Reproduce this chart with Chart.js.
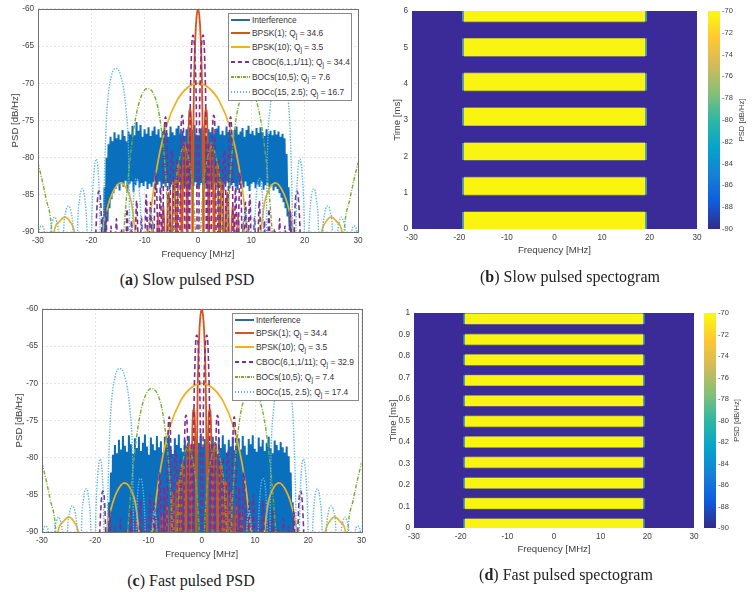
<!DOCTYPE html>
<html>
<head>
<meta charset="utf-8">
<title>Pulsed interference PSD</title>
<script src="https://cdn.jsdelivr.net/npm/chart.js@4/dist/chart.umd.js"></script>
<style>
  html,body{margin:0;background:#fff}
  #page{position:relative;width:753px;height:592px;overflow:hidden;font-family:"Liberation Sans",sans-serif}
  canvas{position:absolute;display:block}
  .cap{position:absolute;transform:translateX(-50%);white-space:nowrap;font:16px/18px "Liberation Serif",serif;color:#222}
  .lg{position:absolute;box-sizing:border-box;background:#fff;border:1px solid #8a8a8a;padding:0 0 0 2px;font-size:8.4px;color:#333}
  .lg-row{display:flex;align-items:center;height:15px;white-space:nowrap}
  .lg-row:first-child{height:11.5px}
  .lg-row:nth-child(2){height:14px}
  .lg-line{display:block;width:19px;height:2px;margin-right:2px;flex:none}
  .lg sub{font-size:7px;line-height:0;vertical-align:-2px}
</style>
</head>
<body>
<div id="page">
  <canvas id="psdSlow" width="378" height="262" style="left:0;top:0"></canvas>
  <canvas id="specSlow" width="332" height="258" style="left:376px;top:0"></canvas>
  <canvas id="barSlow" width="45" height="240" style="left:708px;top:0"></canvas>
  <canvas id="psdFast" width="378" height="262" style="left:0;top:300px"></canvas>
  <canvas id="specFast" width="328" height="257" style="left:376px;top:300px"></canvas>
  <canvas id="barFast" width="45" height="240" style="left:704px;top:300px"></canvas>
  <div class="lg" id="lgSlow" style="left:228px;top:13px;width:124px;height:88px"></div>
  <div class="lg" id="lgFast" style="left:232px;top:313px;width:127px;height:88px"></div>
  <div class="cap" style="left:187px;top:271px">(<b>a</b>) Slow pulsed PSD</div>
  <div class="cap" style="left:570px;top:268px">(<b>b</b>) Slow pulsed spectogram</div>
  <div class="cap" style="left:191px;top:572px">(<b>c</b>) Fast pulsed PSD</div>
  <div class="cap" style="left:566px;top:566px">(<b>d</b>) Fast pulsed spectogram</div>
</div>
<script>
/* ── axis ticks ── */
const freqTicks = [-30,-20,-10,0,10,20,30];
const psdTicks  = [-90,-85,-80,-75,-70,-65,-60];
const slowTimeTicks = [0,1,2,3,4,5,6];
const fastTimeTicks = [0,0.1,0.2,0.3,0.4,0.5,0.6,0.7,0.8,0.9,1];
const colorbarTicks = [-90,-88,-86,-84,-82,-80,-78,-76,-74,-72,-70];

/* ── legend ── */
const interfName  = 'Interference';
const signalNames = ['BPSK(1)','BPSK(10)','CBOC(6,1,1/11)','BOCs(10,5)','BOCc(15, 2.5)'];
const slowQ = [34.6,3.5,34.4,7.6,16.7];
const fastQ = [34.4,3.5,32.9,7.4,17.4];

/* ── signal spectra (they are symmetric around 0) ── */
const bpsk1Freq = [0,.25,.5,.8,.95,1.02, 1.1,1.5,1.9,2, 2.1,2.5,2.9,3, 3.1,3.5,3.9,4, 4.1,4.5,4.9,5, 5.1,5.5,5.9,6, 6.1,6.5,6.9,7, 7.1,7.5,7.9,8, 8.1,8.5,8.9,9, 9.1,9.5,9.9,10];
const bpsk1Psd  = [-60,-60.9,-63.9,-72.6,-85.7,-105, -83.7,-73.5,-83.7,-105, -88.2,-78,-88.2,-105, -91,-80.8,-91,-105, -93.2,-83,-93.2,-105, -94.9,-84.7,-94.9,-105, -96.4,-86.2,-96.4,-105, -97.6,-87.4,-97.6,-105, -98.7,-88.5,-98.7,-105, -99.7,-89.5,-99.7,-105];

const bpsk10Freq = [0,2,4,6,7.5,8.5,9,9.3,9.8,10, 11.2,11.8,12.5,13.3,14.5,16,17,17.9,18.6,20, 22,23.2,24,25,26,27,28,30];
const bpsk10Psd  = [-70,-70.6,-72.4,-75.9,-80.5,-85.2,-88.6,-90.5,-100,-108, -96,-90,-86,-84.3,-83.4,-84.7,-86.8,-90,-96,-108, -98,-90,-88.6,-88,-88.6,-90,-98,-108];

const cbocFreq = [.1,.25,.55,.95,1.3,1.5,1.6, 1.65,1.75,1.95,2.15,2.25, 2.4,2.6,2.95,3.3,3.5, 3.6,3.75,3.95,4.15,4.3, 4.4,4.6,4.9,5.2,5.4, 5.5,5.75,6.1,6.45,6.7, 6.75,6.85,7.05,7.25,7.35, 7.4,7.6,7.9,8.2,8.4, 8.5,8.65,8.9,9.15,9.25, 9.3,9.45,9.7,9.95,10.1, 10.2,10.35,10.6,10.85,10.95, 11,11.2,11.5,11.8,12, 12.05,12.2,12.45,12.7,12.85, 12.9,13.05,13.3,13.55,13.75, 13.8,14.05,14.35,14.65,14.85, 14.9,15.05,15.3,15.55,15.75, 15.8,16.05,16.3,16.55,16.7, 16.75,17,17.3,17.6,17.8, 17.85,18,18.6,19.2,19.5];
const cbocPsd  = [-100,-78,-67,-63.5,-68,-78,-100, -100,-86,-78,-86,-100, -100,-81,-74.3,-81,-100, -100,-87,-80,-87,-100, -100,-85,-79,-85,-100, -100,-81,-74.5,-81,-100, -100,-91,-84,-91,-100, -100,-89,-82,-89,-100, -100,-93,-86,-93,-100, -100,-92,-85,-92,-100, -100,-95,-88,-95,-100, -100,-93,-85.8,-93,-100, -100,-95,-88.5,-95,-100, -100,-94,-86.9,-94,-100, -100,-96,-89.6,-96,-100, -100,-95,-88.2,-95,-100, -100,-96,-89.2,-96,-100, -100,-94,-87,-94,-100, -100,-91.5,-84.5,-91,-100];

const bocsFreq = [0,.4,1,1.8,2.6,3.4,4.2,4.7,5, 5.4,6,7,8,9.5,11,12,13,13.7,14.2,15, 26,27,27.4,28.5,29.3,30];
const bocsPsd  = [-105,-92,-84,-80,-78.5,-80,-84,-92,-105, -92,-83,-75.5,-72,-70.7,-72.5,-76,-82,-88,-93,-105, -105,-96,-90,-85.5,-82.8,-80.7];

const boccFreq = [8,8.3,8.9,9.5,9.9, 10.3,10.6,11,11.5,12,12.3, 12.5,12.8,13,13.5,14.5,15.4,16.3,17,17.4,17.7,17.9, 18.2,18.4,18.7,19.1,19.5,19.9,20.2, 20.5,20.8,21.2,21.7,22.2,22.6,22.8, 23,23.4,23.8,24.3,24.8,25.2,25.5, 25.8,26.2,26.5,26.9,27.3,27.6,27.9, 28.2,28.8,29.3,29.8,30];
const boccPsd  = [-100,-92,-87,-92,-100, -100,-90,-84.5,-82.8,-84.5,-90, -100,-90,-80,-73.5,-69,-68,-69.2,-73,-79,-88,-100, -100,-88,-82,-80.2,-82,-88,-100, -100,-90,-85.6,-84.2,-85.6,-90,-100, -100,-90,-87.3,-86.5,-87.3,-90,-100, -100,-90,-88.6,-88,-88.6,-90,-100, -100,-90,-89.2,-90,-92];

/* ── interference band: peaks and troughs across the band, left to right ── */
const slowInterfStart = -17.9, fastInterfStart = -17.8, interfStep = 0.375;
const slowInterfUpper = [-88,-84,-80,-78.2,-77.2,-77.8,-76.6,-77.4,-76.9,-77.6,-76.3,-77.1,-77.8,-76.5,-76.9,-75.7,-77,-75.2,-76.4,-75.6,-77.2,-76.2,-76.8,-75.9,-77.1,-76.4,-75.8,-76.9,-76.2,-77.3,-76.5,-75.9,-76.7,-77.2,-75.8,-76.6,-77,-76.1,-75.7,-76.8,-76.4,-77.1,-76.2,-75.9,-76.7,-76.3,-75.6,-76.9,-77,-76.1,-75.8,-76.5,-77.2,-76.2,-76.6,-75.9,-76.8,-76.1,-75.7,-76.9,-76.4,-77,-75.8,-76.6,-76.2,-77.1,-76.3,-75.8,-76.9,-76.5,-76,-77.2,-76.3,-75.7,-76.8,-76.4,-77,-76,-76.7,-75.9,-76.6,-77.1,-76.2,-76.8,-76.4,-77,-76.3,-76.9,-76.5,-77.2,-76.8,-77.4,-79.5,-84,-89];
const slowInterfLower = [-92,-90.5,-88.6,-86.8,-85.6,-84.8,-84.2,-83.6,-84.4,-83.3,-83.9,-83.1,-84.3,-83.5,-83.2,-84.6,-83.7,-83.1,-84,-83.4,-83.8,-83.2,-84.2,-83.5,-83.9,-83.3,-84.4,-83.6,-83.2,-84.1,-83.5,-83.9,-83.4,-84.3,-83.6,-83.2,-84,-83.7,-83.3,-84.2,-83.6,-83.9,-83.2,-84.4,-83.5,-83.8,-83.3,-84.1,-83.7,-83.4,-84.2,-83.5,-83.9,-83.2,-84.3,-83.6,-83.4,-84,-83.3,-83.8,-84.4,-83.5,-83.2,-84.1,-83.7,-83.4,-83.9,-84.3,-83.3,-83.6,-84,-83.2,-83.8,-84.5,-83.5,-83.3,-84.1,-83.6,-83.9,-83.2,-84.3,-83.7,-83.4,-84,-83.6,-84.4,-83.9,-84.2,-84.8,-85.4,-86,-86.8,-87.9,-89.2,-92];
const fastInterfUpper = [-90,-86,-82,-79.6,-78.3,-79.4,-77.6,-78.9,-77.1,-78.4,-79.2,-77,-78.2,-79.5,-77.4,-78.7,-77.2,-79.1,-78,-76.9,-78.5,-79.6,-77.3,-78.2,-79,-77.1,-78.6,-77.8,-79.3,-77.2,-78.1,-77,-78.9,-79.5,-77.4,-78.3,-76.9,-78.7,-79.2,-77.6,-78.4,-77.1,-79,-78.2,-77.3,-79.4,-78,-76.8,-78.6,-77.5,-79.1,-77.9,-78.8,-77.2,-78.3,-79.5,-77.4,-78.7,-77,-78.2,-79.3,-77.6,-78.5,-77.2,-79,-78.1,-77.4,-78.9,-77.1,-78.4,-79.6,-77.5,-78.2,-77,-78.8,-79.2,-77.3,-78.5,-77.6,-79.1,-78,-77.2,-78.7,-79.4,-77.7,-78.3,-79,-77.9,-78.6,-79.3,-78.5,-79.8,-82,-86,-90];
const fastInterfLower = [-92,-91,-90.6,-91.4,-90.8,-91.2,-90.5,-91.6,-90.9,-91.3,-90.7,-91.5,-91,-90.6,-91.2,-90.8,-91.7,-90.5,-91.1,-91.4,-90.7,-91,-90.6,-91.5,-90.9,-91.2,-90.5,-91.3,-90.8,-91.6,-91,-90.7,-91.4,-90.6,-91.1,-90.9,-91.5,-90.5,-91.2,-90.8,-91.3,-90.6,-91,-91.6,-90.7,-91.2,-90.5,-91.4,-90.9,-91.1,-90.6,-91.5,-90.8,-91.3,-90.5,-91,-91.6,-90.7,-91.2,-90.9,-91.4,-90.6,-91.1,-90.8,-91.5,-90.5,-91.3,-91,-90.7,-91.6,-90.9,-91.2,-90.6,-91.4,-90.8,-91,-90.5,-91.5,-91.1,-90.7,-91.3,-90.9,-91.6,-90.6,-91.2,-90.8,-91.4,-90.5,-91,-91.3,-90.7,-91.5,-91,-91.2,-92];

/* ── spectrogram bursts: time extent of each yellow band ── */
const slowBurstStart = [0,0.943,1.9,2.85,3.81,4.76,5.71];
const slowBurstEnd   = [0.467,1.42,2.37,3.33,4.29,5.24,6];
const fastBurstStart = [0,0.09,0.185,0.281,0.376,0.472,0.568,0.663,0.758,0.853,0.949];
const fastBurstEnd   = [0.042,0.138,0.233,0.329,0.424,0.52,0.615,0.71,0.806,0.9,0.997];
const burstFreqLo = -19.1, burstFreqHi = 19.1;
const fringeFreqLo = -19.45, fringeFreqHi = 19.45;
const floorLevelColor = '#3a2b98';
const parula = ['#352a87','#0f5cdd','#1481d6','#06a4ca','#2eb7a4','#87bf77','#d1bb59','#fec832','#f9fb0e'];

const COLORS = {interf:'#0a6fbd', bpsk1:'#d95319', bpsk10:'#edb120', cboc:'#7e2f8e', bocs:'#77ac30', bocc:'#5bb5e5'};
const TXT = '#404040';

/* spectrum is symmetric: build the full {x,y} line from the positive side */
function bothSides(freq,psd){
  const pos = freq.map((f,i)=>({x:f,y:psd[i]}));
  const neg = pos.map(p=>({x:-p.x,y:p.y})).reverse();
  return neg.concat(pos);
}
function zigzag(start,upper,lower){
  const pts=[];
  upper.forEach((u,i)=>{
    pts.push({x:start+i*interfStep,y:u});
    pts.push({x:start+(i+.5)*interfStep,y:lower[i]});
  });
  return pts;
}
function fixedTicks(vals){ return s=>{ s.ticks = vals.map(v=>({value:v})); }; }

/* box around the plot, matlab style */
const plotBox = {
  id:'plotBox',
  afterDraw(chart,args,opts){
    const a=chart.chartArea, c=chart.ctx;
    c.save(); c.strokeStyle=opts.color||'#666'; c.lineWidth=1;
    c.strokeRect(Math.round(a.left)+.5,Math.round(a.top)+.5,Math.round(a.width),Math.round(a.height));
    c.restore();
  }
};
/* colorbar label reads bottom to top, the built-in right axis title would not */
const barTitle = {
  id:'barTitle',
  afterDraw(chart,args,opts){
    const a=chart.chartArea, c=chart.ctx;
    c.save();
    c.translate(opts.x,(a.top+a.bottom)/2); c.rotate(-Math.PI/2);
    c.font='7.6px "Liberation Sans"'; c.fillStyle=TXT; c.textAlign='center'; c.textBaseline='middle';
    c.fillText(opts.text,0,0);
    c.restore();
  }
};

function axis(cfg){
  return {
    type:'linear', min:cfg.min, max:cfg.max,
    afterBuildTicks:fixedTicks(cfg.ticks),
    afterFit:s=>{ if(cfg.width) s.width=cfg.width; if(cfg.height) s.height=cfg.height; },
    grid:{display:cfg.grid, color:'#e3e3e3', drawTicks:false},
    border:{display:false, dash:[2,2]},
    ticks:{autoSkip:false, maxRotation:0, color:TXT, padding:4, font:{family:'Liberation Sans',size:8.2}, callback:v=>String(v)},
    title:{display:true, text:cfg.title, color:TXT, font:{family:'Liberation Sans',size:9.6}, padding:cfg.titlePad}
  };
}

function lineSet(label,data,color,width,dash,smooth){
  return {label,data,borderColor:color,borderWidth:width,borderDash:dash,pointRadius:0,fill:false,
          borderJoinStyle:'bevel',cubicInterpolationMode:smooth?'monotone':'default',tension:0};
}

function drawPsd(id,a,interf){
  const W=378,H=262;
  const datasets=[
    lineSet(interfName,interf,COLORS.interf,2,[],false),
    lineSet(signalNames[0],bothSides(bpsk1Freq,bpsk1Psd),COLORS.bpsk1,1.8,[],true),
    lineSet(signalNames[1],bothSides(bpsk10Freq,bpsk10Psd),COLORS.bpsk10,1.7,[],true),
    lineSet(signalNames[2],bothSides(cbocFreq,cbocPsd),COLORS.cboc,1.6,[5,3],true),
    lineSet(signalNames[3],bothSides(bocsFreq,bocsPsd),COLORS.bocs,1.4,[4,1.5,1,1.5],true),
    lineSet(signalNames[4],bothSides(boccFreq,boccPsd),COLORS.bocc,1.4,[1.4,1.4],true)
  ];
  new Chart(document.getElementById(id),{
    type:'line',
    data:{datasets:datasets.reverse()},   // first dataset is painted last, so interference goes to the end
    options:{
      responsive:false, animation:false, events:[],
      layout:{padding:{left:0,top:a.top,right:W-a.right,bottom:0}},
      plugins:{legend:{display:false},tooltip:{enabled:false},plotBox:{color:'#707070'}},
      scales:{
        x:axis({min:-30,max:30,ticks:freqTicks,grid:true,height:H-a.bottom,title:'Frequency [MHz]',titlePad:{top:0,bottom:2.3}}),
        y:axis({min:-90,max:-60,ticks:psdTicks,grid:true,width:a.left,title:'PSD [dB/Hz]',titlePad:{top:a.titleX-5.7,bottom:0}})
      }
    },
    plugins:[plotBox]
  });
}

function rect(xLo,xHi,yLo,yHi,color){
  return {data:[{x:xLo,y:yHi},{x:xHi,y:yHi}],fill:{value:yLo},backgroundColor:color,borderWidth:0,pointRadius:0,tension:0};
}
function drawSpec(id,a,W,H,tMax,ticks,starts,ends){
  const edge=tMax*0.003, sets=[rect(-30,30,0,tMax,floorLevelColor)];
  starts.forEach((s,i)=>{
    sets.push(rect(fringeFreqLo,fringeFreqHi,s,ends[i],'#4f9fb0'));
    sets.push(rect(burstFreqLo,burstFreqHi,Math.max(0,s-edge),Math.min(tMax,ends[i]+edge),'#8f8f5a'));
    sets.push(rect(burstFreqLo,burstFreqHi,s,ends[i],'#f9f510'));
  });
  new Chart(document.getElementById(id),{
    type:'line',
    data:{datasets:sets.reverse()},
    options:{
      responsive:false, animation:false, events:[],
      layout:{padding:{left:0,top:a.top,right:W-a.right,bottom:0}},
      plugins:{legend:{display:false},tooltip:{enabled:false}},
      scales:{
        x:axis({min:-30,max:30,ticks:freqTicks,grid:false,height:H-a.bottom,title:'Frequency [MHz]',titlePad:{top:0,bottom:2.3}}),
        y:axis({min:0,max:tMax,ticks:ticks,grid:false,width:a.left,title:'Time [ms]',titlePad:{top:a.titleX-5.7,bottom:0}})
      }
    }
  });
}

function drawColorbar(id,top,bottom,titleX){
  new Chart(document.getElementById(id),{
    type:'bar',
    data:{labels:['PSD'],datasets:[{
      data:[[colorbarTicks[0],colorbarTicks[colorbarTicks.length-1]]],
      barPercentage:1,categoryPercentage:1,
      backgroundColor:ctx=>{
        const ar=ctx.chart.chartArea;
        if(!ar) return parula[0];
        const g=ctx.chart.ctx.createLinearGradient(0,ar.bottom,0,ar.top);
        parula.forEach((c,i)=>g.addColorStop(i/(parula.length-1),c));
        return g;
      }
    }]},
    options:{
      responsive:false, animation:false, events:[],
      layout:{padding:{top:top,bottom:240-bottom,left:0,right:0}},
      plugins:{legend:{display:false},tooltip:{enabled:false},barTitle:{text:'PSD [dB/Hz]',x:titleX}},
      scales:{
        x:{display:false},
        y:{position:'right',min:-90,max:-70,
           afterBuildTicks:fixedTicks(colorbarTicks),
           afterFit:s=>{s.width=33;},
           grid:{display:false,drawTicks:false},border:{display:false},
           ticks:{autoSkip:false,color:TXT,padding:2,font:{family:'Liberation Sans',size:7.5},callback:v=>String(v)}}
      }
    },
    plugins:[barTitle]
  });
}

/* ── legend box, html because of the subscript ── */
function lineSample(color,kind){
  const pat={solid:color,
    dash:`repeating-linear-gradient(90deg,${color} 0 4px,transparent 4px 7px)`,
    dashdot:`repeating-linear-gradient(90deg,${color} 0 3px,transparent 3px 4px,${color} 4px 5px,transparent 5px 6px)`,
    dot:`repeating-linear-gradient(90deg,${color} 0 1.5px,transparent 1.5px 3px)`}[kind];
  return `<i class="lg-line" style="background:${pat}"></i>`;
}
function renderLegend(id,q){
  const kinds=['solid','solid','dash','dashdot','dot'];
  const cols=[COLORS.bpsk1,COLORS.bpsk10,COLORS.cboc,COLORS.bocs,COLORS.bocc];
  let html=`<div class="lg-row">${lineSample('#2a6a9e','solid')}<span>${interfName}</span></div>`;
  signalNames.forEach((n,i)=>{
    html+=`<div class="lg-row">${lineSample(cols[i],kinds[i])}<span>${n}; Q<sub>j</sub> = ${q[i]}</span></div>`;
  });
  document.getElementById(id).innerHTML=html;
}

drawPsd('psdSlow',{left:38,right:358,top:8,bottom:232,titleX:15},zigzag(slowInterfStart,slowInterfUpper,slowInterfLower));
drawPsd('psdFast',{left:42,right:361.5,top:8,bottom:232,titleX:19},zigzag(fastInterfStart,fastInterfUpper,fastInterfLower));
drawSpec('specSlow',{left:36,right:321,top:11,bottom:229,titleX:21},332,258,6,slowTimeTicks,slowBurstStart,slowBurstEnd);
drawSpec('specFast',{left:38,right:318,top:13,bottom:228,titleX:17},328,257,1,fastTimeTicks,fastBurstStart,fastBurstEnd);
drawColorbar('barSlow',11,229,33.7);
drawColorbar('barFast',13,228,32.7);
renderLegend('lgSlow',slowQ);
renderLegend('lgFast',fastQ);
</script>
</body>
</html>
